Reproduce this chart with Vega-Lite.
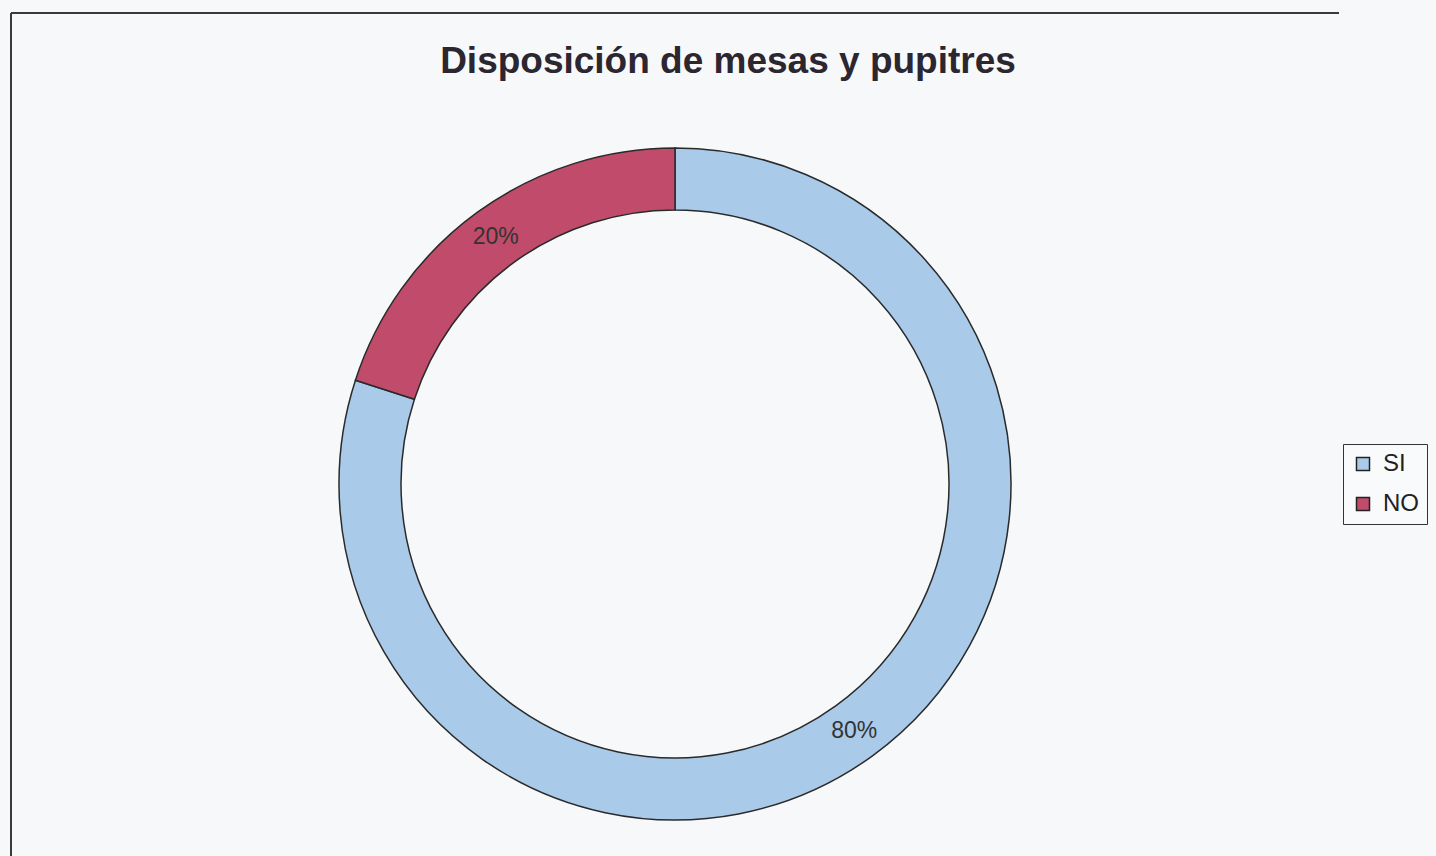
{
  "$schema": "https://vega.github.io/schema/vega-lite/v6.json",
  "autosize": {"type": "none"},
  "width": 1328,
  "height": 942,
  "padding": {"left": 11, "top": 13, "right": 97, "bottom": -99},
  "background": "#f7f8fa",
  "title": {
    "text": "Disposición de mesas y pupitres",
    "orient": "top",
    "anchor": "middle",
    "offset": -68,
    "dx": 53,
    "font": "Liberation Sans",
    "fontSize": 37,
    "fontWeight": "bold",
    "color": "#2b2630"
  },
  "view": {"stroke": "#3a3a3a", "strokeWidth": 2, "strokeDash": [1328, 942, 2270, 0]},
  "config": {
    "style": {
      "view": {"stroke": "#3a3a3a", "strokeWidth": 2, "strokeDash": [1328, 942, 2270, 0]},
      "cell": {"stroke": "#3a3a3a", "strokeWidth": 2, "strokeDash": [1328, 942, 2270, 0]}
    }
  },
  "data": {
    "values": [
      {"respuesta": "SI", "porcentaje": 80, "etiqueta": "80%", "orden": 1},
      {"respuesta": "NO", "porcentaje": 20, "etiqueta": "20%", "orden": 2}
    ]
  },
  "encoding": {
    "theta": {"field": "porcentaje", "type": "quantitative", "stack": true},
    "order": {"field": "orden", "type": "quantitative"}
  },
  "layer": [
    {
      "mark": {"type": "arc", "outerRadius": 336, "innerRadius": 274, "stroke": "#2a2a2a", "strokeWidth": 1.5},
      "encoding": {
        "color": {
          "field": "respuesta",
          "type": "nominal",
          "scale": {"domain": ["SI", "NO"], "range": ["#a9cae9", "#c04b6b"]},
          "legend": {
            "title": null,
            "orient": "none",
            "legendX": 1332,
            "legendY": 431,
            "strokeColor": "#333333",
            "fillColor": "#f9fafc",
            "padding": 8,
            "symbolType": "square",
            "symbolSize": 169,
            "symbolStrokeColor": "#222222",
            "symbolStrokeWidth": 1.5,
            "symbolOpacity": 1,
            "labelFont": "Liberation Sans",
            "labelFontSize": 24,
            "labelColor": "#222222",
            "labelOffset": 8,
            "rowPadding": 16
          }
        }
      }
    },
    {
      "mark": {"type": "text", "radius": 305, "font": "Liberation Sans", "fontSize": 23, "color": "#333333"},
      "encoding": {
        "detail": {"field": "respuesta", "type": "nominal"},
        "text": {"field": "etiqueta", "type": "nominal"}
      }
    }
  ]
}
